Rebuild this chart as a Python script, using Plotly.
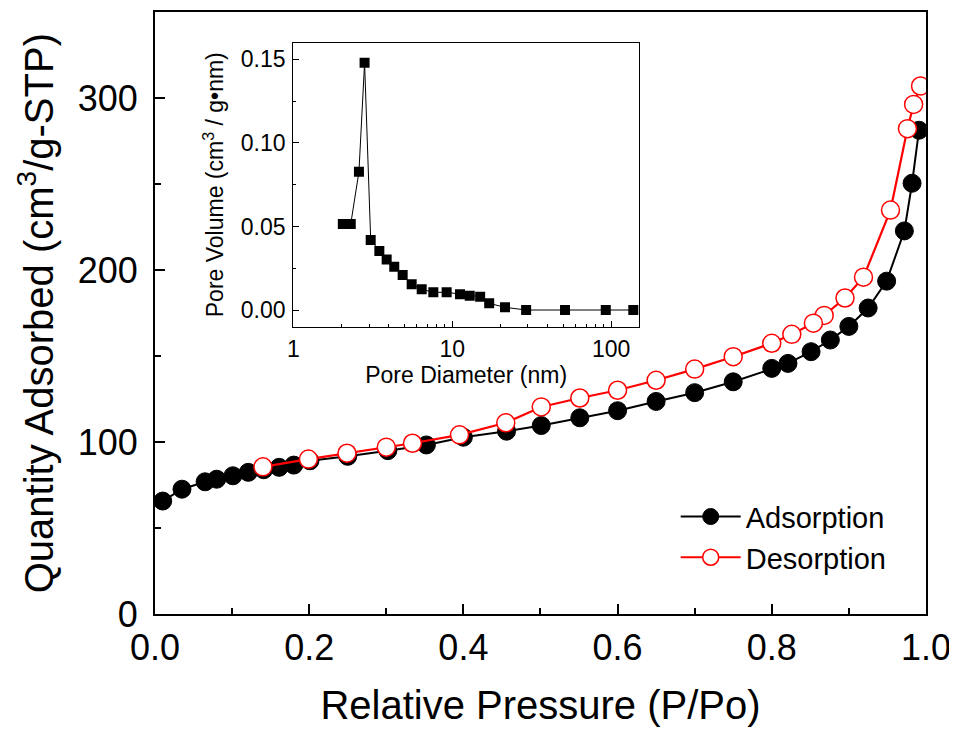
import plotly.graph_objects as go

# Main isotherm data
ads_p = [0.010, 0.035, 0.065, 0.080, 0.101, 0.121, 0.141, 0.161, 0.180, 0.201, 0.250, 0.302, 0.352, 0.400,
         0.456, 0.501, 0.551, 0.600, 0.650, 0.700, 0.750, 0.800, 0.821, 0.851, 0.876, 0.900, 0.925, 0.949,
         0.972, 0.982, 0.991]
ads_q = [65.8, 72.7, 77.0, 78.5, 80.5, 82.5, 84.0, 85.4, 86.7, 89.2, 91.8, 95.1, 98.4, 102.9,
         106.4, 109.7, 114.2, 118.3, 123.7, 128.8, 135.1, 142.9, 145.8, 152.6, 159.4, 167.3, 178.0, 193.6,
         222.8, 250.5, 281.3]

des_p = [0.993, 0.984, 0.976, 0.954, 0.919, 0.895, 0.868, 0.854, 0.826, 0.800, 0.750, 0.700, 0.650, 0.600,
         0.551, 0.501, 0.455, 0.395, 0.334, 0.300, 0.249, 0.199, 0.140]
des_q = [307.0, 296.3, 282.2, 234.9, 195.9, 183.8, 173.7, 169.2, 162.7, 157.5, 149.7, 142.5, 136.0, 130.2,
         125.7, 120.5, 111.3, 104.3, 99.4, 97.1, 93.6, 90.2, 85.7]

# Inset pore size distribution
pore_d = [2.05, 2.30, 2.59, 2.81, 3.07, 3.48, 3.87, 4.32, 4.88, 5.56, 6.43, 7.61, 9.23, 11.2, 12.9, 15.0,
          17.1, 21.5, 29.2, 51.3, 92.6, 138.0]
pore_v = [0.0515, 0.0515, 0.0828, 0.148, 0.0419, 0.0353, 0.0303, 0.0259, 0.0209, 0.0154, 0.0124, 0.0106,
          0.0106, 0.0094, 0.0086, 0.0080, 0.0040, 0.0016, 0.0, 0.0, 0.0, 0.0]

FONT = "Liberation Sans, Arial, sans-serif"

fig = go.Figure()
fig.add_trace(go.Scatter(x=ads_p, y=ads_q, mode="lines+markers", name="Adsorption",
                         line=dict(color="black", width=2),
                         marker=dict(symbol="circle", size=18, color="black",
                                     line=dict(color="black", width=1))))
fig.add_trace(go.Scatter(x=des_p, y=des_q, mode="lines+markers", name="Desorption",
                         line=dict(color="#ff0000", width=2.2),
                         marker=dict(symbol="circle", size=18, color="white",
                                     line=dict(color="#ff0000", width=1.5))))
fig.add_trace(go.Scatter(x=pore_d, y=pore_v, mode="lines+markers", name="PSD", showlegend=False,
                         xaxis="x2", yaxis="y2",
                         line=dict(color="black", width=1),
                         marker=dict(symbol="square", size=10, color="black")))

axis_common = dict(showgrid=False, zeroline=False, showline=True, linecolor="black", mirror=True,
                   ticks="inside", tickcolor="black", automargin=False)

fig.update_layout(
    width=957, height=731,
    margin=dict(l=0, r=0, t=0, b=0),
    paper_bgcolor="white", plot_bgcolor="white",
    font=dict(family=FONT, color="black"),
    xaxis=dict(**axis_common, domain=[0.1536, 0.9592], range=[0, 1.0], dtick=0.2, tickformat=".1f",
               linewidth=2, tickwidth=2, ticklen=10,
               minor=dict(ticks="inside", dtick=0.1, ticklen=6, tickwidth=2, tickcolor="black"),
               tickfont=dict(size=36), ticklabelstandoff=1,
               title=dict(text="Relative Pressure (P/Po)", font=dict(size=40), standoff=24)),
    yaxis=dict(**axis_common, domain=[0.1706, 0.9945], range=[0, 350], dtick=100,
               linewidth=2, tickwidth=2, ticklen=10,
               minor=dict(ticks="inside", dtick=50, ticklen=6, tickwidth=2, tickcolor="black"),
               tickfont=dict(size=36), ticklabelstandoff=8,
               title=dict(text="Quantity Adsorbed (cm<sup>3</sup>/g-STP)", font=dict(size=40), standoff=12)),
    xaxis2=dict(**axis_common, type="log", domain=[0.2981, 0.6594], range=[0, 2.176], anchor="y2",
                dtick=1, linewidth=1.2, tickwidth=1.2, ticklen=6,
                minor=dict(ticks="inside", ticklen=3, tickwidth=1, tickcolor="black"),
                tickfont=dict(size=23), ticklabelstandoff=2,
                title=dict(text="Pore Diameter (nm)", font=dict(size=23), standoff=3)),
    yaxis2=dict(**axis_common, domain=[0.5640, 0.9525], range=[-0.01, 0.16], anchor="x2",
                dtick=0.05, tickformat=".2f", linewidth=1.2, tickwidth=1.2, ticklen=6,
                minor=dict(ticks="inside", dtick=0.025, ticklen=3, tickwidth=1, tickcolor="black"),
                tickfont=dict(size=23), ticklabelstandoff=2,
                title=dict(text="Pore Volume (cm<sup>3</sup> / g•nm)", font=dict(size=23), standoff=10)),
    legend=dict(x=0.6977, y=0.339, xanchor="left", yanchor="top", bgcolor="rgba(0,0,0,0)",
                font=dict(size=29, family=FONT), itemwidth=60, tracegroupgap=0),
    showlegend=True,
)

fig.write_html("out.html")
